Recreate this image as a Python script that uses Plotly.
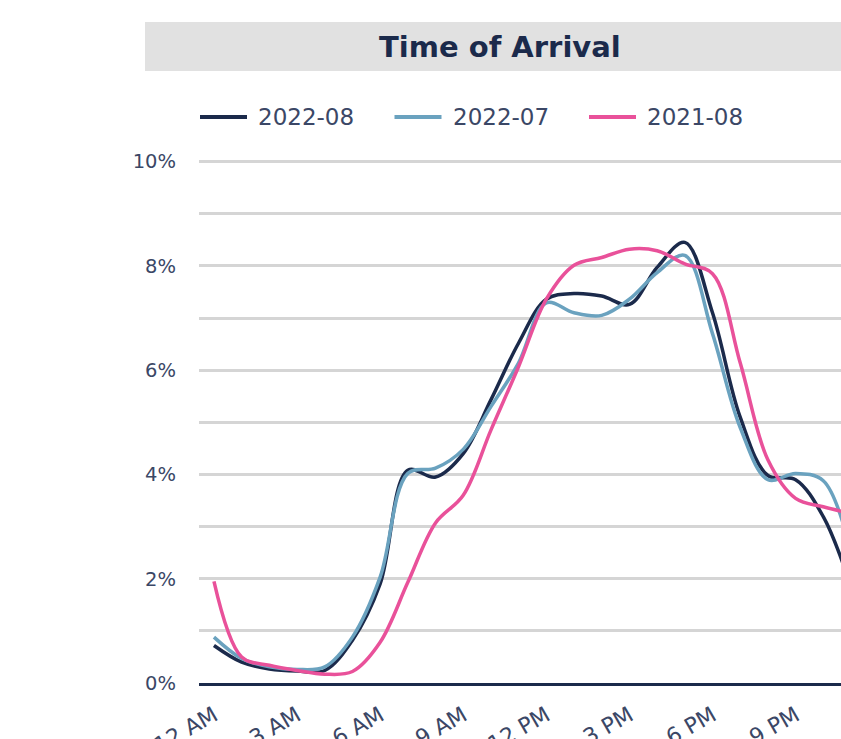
import plotly.graph_objects as go

# ---------------- data ----------------
hours = list(range(24))
tick_hours = [0, 3, 6, 9, 12, 15, 18, 21]
tick_labels = ["12 AM", "3 AM", "6 AM", "9 AM", "12 PM", "3 PM", "6 PM", "9 PM"]
y_ticks = [0, 2, 4, 6, 8, 10]
y_tick_labels = ["0%", "2%", "4%", "6%", "8%", "10%"]
y_minor_ticks = [1, 3, 5, 7, 9]
series_names = ["2022-08", "2022-07", "2021-08"]

arr_2022_08 = [0.72, 0.40, 0.27, 0.23, 0.24, 0.82, 1.90, 4.08, 3.95, 4.40, 5.43, 6.52,
               7.36, 7.47, 7.42, 7.26, 7.97, 8.45, 7.10, 5.10, 3.98, 3.90, 3.19, 1.85]
arr_2022_07 = [0.88, 0.47, 0.31, 0.26, 0.31, 0.88, 2.03, 4.02, 4.12, 4.48, 5.30, 6.14,
               7.29, 7.10, 7.05, 7.36, 7.87, 8.20, 6.70, 4.90, 3.90, 4.02, 3.88, 2.50]
arr_2021_08 = [1.95, 0.50, 0.34, 0.24, 0.17, 0.22, 0.78, 1.93, 3.07, 3.60, 4.85, 6.07,
               7.36, 8.01, 8.16, 8.32, 8.29, 8.04, 7.85, 6.14, 4.28, 3.54, 3.38, 3.25]
series_values = [arr_2022_08, arr_2022_07, arr_2021_08]

# ---------------- style ----------------
colors = ["#1b2a4b", "#6aa2bf", "#e9519a"]
text_color = "#3b4766"
font_family = "'DejaVu Sans', sans-serif"

W, H = 841, 739
L, R, T, B = 199, 0, 160, 56
plot_w = W - L - R
plot_h = H - T - B
Y_MAX = 10.03


def px_to_paper_x(px):
    return (px - L) / plot_w


def px_to_paper_y(py):
    return (H - B - py) / plot_h


fig = go.Figure()
for name, vals, col in zip(series_names, series_values, colors):
    fig.add_trace(go.Scatter(
        x=hours, y=vals, name=name, mode="lines",
        line=dict(color=col, width=3.5, shape="spline", smoothing=1.0),
        showlegend=False,
    ))

shapes = []
annotations = []

# title box
shapes.append(dict(type="rect", xref="paper", yref="paper",
                   x0=px_to_paper_x(145), x1=px_to_paper_x(900),
                   y0=px_to_paper_y(71), y1=px_to_paper_y(22),
                   fillcolor="#e1e1e1", line=dict(width=0), layer="below"))
annotations.append(dict(text="<b>Time of Arrival</b>", xref="paper", yref="paper",
                        x=px_to_paper_x(500), y=px_to_paper_y(47),
                        xanchor="center", yanchor="middle", showarrow=False,
                        font=dict(family=font_family, size=29, color="#1b2a4b")))

# legend (manual)
leg_y = px_to_paper_y(117)
for i, (name, col) in enumerate(zip(series_names, colors)):
    x0 = 200 + i * 194.5
    shapes.append(dict(type="line", xref="paper", yref="paper",
                       x0=px_to_paper_x(x0), x1=px_to_paper_x(x0 + 47),
                       y0=leg_y, y1=leg_y, line=dict(color=col, width=4)))
    annotations.append(dict(text=name, xref="paper", yref="paper",
                            x=px_to_paper_x(x0 + 56), y=leg_y,
                            xanchor="left", yanchor="middle", showarrow=False,
                            font=dict(family=font_family, size=23, color=text_color)))

fig.update_layout(
    width=W, height=H,
    margin=dict(l=L, r=R, t=T, b=B, pad=0),
    paper_bgcolor="white", plot_bgcolor="white",
    shapes=shapes, annotations=annotations,
    font=dict(family=font_family, color=text_color),
    xaxis=dict(
        range=[-0.54, 22.64], tickvals=tick_hours, ticktext=tick_labels,
        tickangle=-30, showgrid=False, zeroline=False,
        showline=True, linecolor="#1b2a4b", linewidth=3,
        ticks="", ticklabelstandoff=8, automargin=False,
        tickfont=dict(family=font_family, size=22, color=text_color),
    ),
    yaxis=dict(
        range=[0, Y_MAX], tickvals=y_ticks, ticktext=y_tick_labels,
        showgrid=True, gridcolor="#d5d5d5", gridwidth=3,
        minor=dict(tickvals=y_minor_ticks, showgrid=True,
                   gridcolor="#d5d5d5", gridwidth=3, ticks=""),
        zeroline=False, showline=False, ticks="",
        ticklabelstandoff=22, automargin=False,
        tickfont=dict(family=font_family, size=19.5, color=text_color),
    ),
)

fig.write_html("out.html")
